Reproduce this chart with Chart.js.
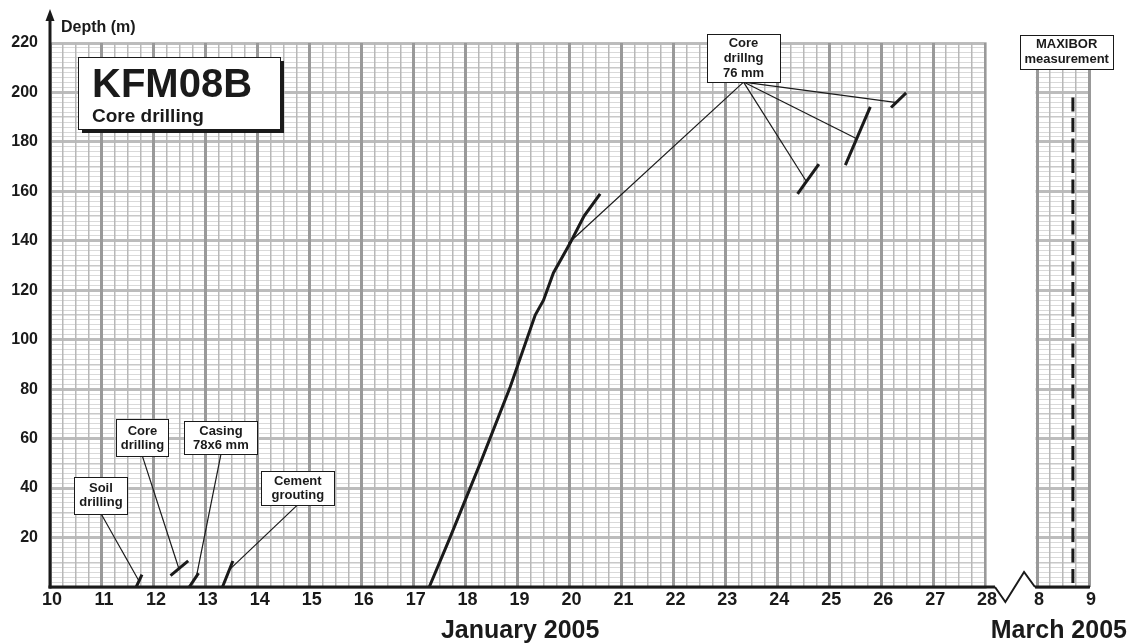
<!DOCTYPE html>
<html>
<head>
<meta charset="utf-8">
<title>KFM08B – Core drilling</title>
<script src="https://cdn.jsdelivr.net/npm/chart.js@4.4.1/dist/chart.umd.min.js"></script>
<style>
  html, body { margin: 0; padding: 0; background: #fff; }
  canvas { display: block; }
</style>
</head>
<body>
<canvas id="chart" width="1135" height="644"></canvas>
<script>
/* ============================================
   KFM08B — drilling progress (depth vs. day)
   ============================================ */

// ---- Tick labels ----
const janLabels   = [10, 11, 12, 13, 14, 15, 16, 17, 18, 19, 20, 21, 22, 23, 24, 25, 26, 27, 28];
const marLabels   = [8, 9];
const depthLabels = [20, 40, 60, 80, 100, 120, 140, 160, 180, 200, 220];

// ---- Drilling runs (day of month, depth in m) ----
const coreDays    = [17.3, 17.7, 18.3, 18.86, 19.34, 19.5, 19.69, 20.01, 20.28, 20.59];
const coreDepth   = [0, 20, 51, 81, 110, 116, 127, 139, 150, 159];

const soilDays    = [11.66, 11.77];
const soilDepth   = [0, 5];
const preCoreDays = [12.32, 12.66];
const preCoreDepth = [4.6, 10.6];
const casingDays  = [12.68, 12.86];
const casingDepth = [0, 5.6];
const cementDays  = [13.32, 13.52];
const cementDepth = [0, 10.5];

const run76Days   = [[24.39, 24.80], [25.31, 25.79], [26.19, 26.48]];
const run76Depth  = [[159, 171], [170.6, 194.2], [193.9, 199.8]];

// March (MAXIBOR measurement)
const maxiborDays  = [8.69, 8.69];
const maxiborDepth = [198, 0];

// March 8 sits one day after January 28 on the axis
const MAR_SHIFT = 21;

const FONT = "'Liberation Sans', Arial, sans-serif";
const INK  = '#1a1a1a';

const isInt = v => Math.abs(v - Math.round(v)) < 1e-6;

function pts(days, depth, shift = 0) {
  return days.map((d, i) => ({ x: d + shift, y: depth[i] }));
}

function run(data, extra) {
  return Object.assign({
    data, borderColor: INK, backgroundColor: INK, borderWidth: 3,
    pointRadius: 0, showLine: true, fill: false
  }, extra || {});
}

// ---- Annotation boxes (anchor in data units) ----
const notes = [
  { lines: ['Soil', 'drilling'],          at: [10.98, 37.2],  w: 53, h: 37, lh: 14, to: [[11.71, 2.5]] },
  { lines: ['Core', 'drilling'],          at: [11.78, 60.3],  w: 52, h: 37, lh: 14, to: [[12.48, 7.5]] },
  { lines: ['Casing', '78x6 mm'],         at: [13.29, 60.3],  w: 73, h: 33, lh: 14, to: [[12.82, 4.4]] },
  { lines: ['Cement', 'grouting'],        at: [14.77, 40.2],  w: 73, h: 34, lh: 14, to: [[13.45, 6.9]] },
  { lines: ['Core', 'drillng', '76 mm'],  at: [23.35, 213.9], w: 73, h: 48, lh: 15,
    to: [[19.98, 139], [24.56, 164], [25.51, 181.5], [26.27, 196]] },
  { lines: ['MAXIBOR', 'measurement'],    at: [8.57 + MAR_SHIFT, 216.5], w: 93, h: 34, lh: 15, to: [] }
];

// ---- Custom drawing: break, boxes, axes ----
const sketch = {
  id: 'sketch',
  beforeDatasetsDraw(chart) {
    const { ctx, chartArea: a, scales: { x } } = chart;
    // blank the grid in the break between Jan 28 and Mar 8
    const l = x.getPixelForValue(28) + 1.5;
    const r = x.getPixelForValue(29) - 1.5;
    ctx.save();
    ctx.fillStyle = '#fff';
    ctx.fillRect(l, a.top - 3, r - l, a.bottom - a.top + 6);
    ctx.restore();
  },
  afterDatasetsDraw(chart) {
    const { ctx, chartArea: a, scales: { x, y } } = chart;
    ctx.save();

    // leader lines
    ctx.strokeStyle = INK;
    ctx.lineWidth = 1.2;
    notes.forEach(n => {
      const bx = x.getPixelForValue(n.at[0]);
      const by = y.getPixelForValue(n.at[1]) + n.h / 2;
      n.to.forEach(t => {
        ctx.beginPath();
        ctx.moveTo(bx, by);
        ctx.lineTo(x.getPixelForValue(t[0]), y.getPixelForValue(t[1]));
        ctx.stroke();
      });
    });

    // label boxes
    ctx.font = `bold 13px ${FONT}`;
    ctx.textAlign = 'center';
    ctx.textBaseline = 'middle';
    notes.forEach(n => {
      const cx = x.getPixelForValue(n.at[0]);
      const cy = y.getPixelForValue(n.at[1]);
      const bx = Math.round(cx - n.w / 2) + 0.5, by = Math.round(cy - n.h / 2) + 0.5;
      ctx.fillStyle = '#fff';
      ctx.fillRect(bx, by, n.w, n.h);
      ctx.lineWidth = 1;
      ctx.strokeRect(bx, by, n.w, n.h);
      ctx.fillStyle = INK;
      n.lines.forEach((s, i) => {
        ctx.fillText(s, cx, cy + (i - (n.lines.length - 1) / 2) * n.lh + 0.5);
      });
    });

    // title box with drop shadow
    const tl = a.left + 28, tt = a.top + 14, tw = 202, th = 72;
    ctx.fillStyle = INK;
    ctx.fillRect(tl + 4, tt + 4, tw, th);
    ctx.fillStyle = '#fff';
    ctx.fillRect(tl, tt, tw, th);
    ctx.lineWidth = 1;
    ctx.strokeRect(tl + 0.5, tt + 0.5, tw, th);
    ctx.fillStyle = INK;
    ctx.textAlign = 'left';
    ctx.textBaseline = 'alphabetic';
    ctx.font = `bold 40px ${FONT}`;
    ctx.fillText('KFM08B', tl + 14, tt + 40);
    ctx.font = `bold 19px ${FONT}`;
    ctx.fillText('Core drilling', tl + 14, tt + 65);

    // y axis with arrow
    ctx.strokeStyle = INK;
    ctx.lineWidth = 3;
    ctx.beginPath();
    ctx.moveTo(a.left, a.bottom + 1.5);
    ctx.lineTo(a.left, 18);
    ctx.stroke();
    ctx.beginPath();
    ctx.moveTo(a.left - 4.5, 21);
    ctx.lineTo(a.left + 4.5, 21);
    ctx.lineTo(a.left, 9);
    ctx.closePath();
    ctx.fill();

    // x axis with break symbol
    const zig = [28.19, 28.39, 28.75, 28.96].map(v => x.getPixelForValue(v));
    ctx.beginPath();
    ctx.moveTo(a.left - 1.5, a.bottom);
    ctx.lineTo(zig[0], a.bottom);
    ctx.moveTo(zig[3], a.bottom);
    ctx.lineTo(x.getPixelForValue(30) + 1, a.bottom);
    ctx.stroke();
    ctx.lineWidth = 2;
    ctx.beginPath();
    ctx.moveTo(zig[0], a.bottom);
    ctx.lineTo(zig[1], a.bottom + 15);
    ctx.lineTo(zig[2], a.bottom - 15);
    ctx.lineTo(zig[3], a.bottom);
    ctx.stroke();

    // axis titles
    ctx.font = `bold 16px ${FONT}`;
    ctx.fillText('Depth (m)', a.left + 11, 32);
    ctx.font = `bold 25px ${FONT}`;
    ctx.textAlign = 'center';
    ctx.fillText('January 2005', x.getPixelForValue(19.05), 638);
    ctx.fillText('March 2005', x.getPixelForValue(8.42 + MAR_SHIFT), 638);

    ctx.restore();
  }
};

// ---- Chart ----
const datasets = [
  run(pts(coreDays, coreDepth)),
  run(pts(soilDays, soilDepth)),
  run(pts(preCoreDays, preCoreDepth)),
  run(pts(casingDays, casingDepth)),
  run(pts(cementDays, cementDepth)),
  ...run76Days.map((d, i) => run(pts(d, run76Depth[i]))),
  run(pts(maxiborDays, maxiborDepth, MAR_SHIFT), { borderDash: [14, 6.5] })
];

new Chart(document.getElementById('chart'), {
  type: 'scatter',
  data: { datasets },
  options: {
    responsive: false,
    animation: false,
    layout: { padding: { top: 43, right: 46, left: 0, bottom: 0 } },
    plugins: { legend: { display: false }, tooltip: { enabled: false } },
    scales: {
      x: {
        type: 'linear', min: 10, max: 30,
        border: { display: false },
        grid: {
          z: -1,
          drawTicks: false,
          color: c => {
            const v = c.tick.value;
            if (v > 28 && v < 29) return 'rgba(0,0,0,0)';
            return isInt(v) ? '#999999' : '#b8b8b8';
          },
          lineWidth: c => isInt(c.tick.value) ? 3 : 1.5
        },
        ticks: {
          stepSize: 0.25, autoSkip: false, maxRotation: 0, minRotation: 0,
          padding: 2, labelOffset: 2, color: INK,
          font: { family: FONT, size: 18, weight: 'bold' },
          callback: v => {
            if (!isInt(v)) return '';
            const d = Math.round(v);
            if (janLabels.includes(d)) return String(d);
            if (marLabels.includes(d - MAR_SHIFT)) return String(d - MAR_SHIFT);
            return '';
          }
        },
        afterFit: s => { s.height = 57; }
      },
      y: {
        type: 'linear', min: 0, max: 220,
        border: { display: false },
        grid: {
          z: -2,
          drawTicks: false,
          color: c => {
            const v = Math.round(c.tick.value);
            if (v % 20 === 0) return '#bcbcbc';
            if (v % 10 === 0) return '#c8c8c8';
            return '#d9d9d9';
          },
          lineWidth: c => {
            const v = Math.round(c.tick.value);
            return v % 20 === 0 ? 3 : (v % 10 === 0 ? 1.5 : 1);
          }
        },
        ticks: {
          stepSize: 2, autoSkip: false, padding: 12, color: INK,
          font: { family: FONT, size: 16, weight: 'bold' },
          callback: v => depthLabels.includes(Math.round(v)) && isInt(v) ? String(Math.round(v)) : ''
        },
        afterFit: s => { s.width = 50; }
      }
    }
  },
  plugins: [sketch]
});
</script>
</body>
</html>
